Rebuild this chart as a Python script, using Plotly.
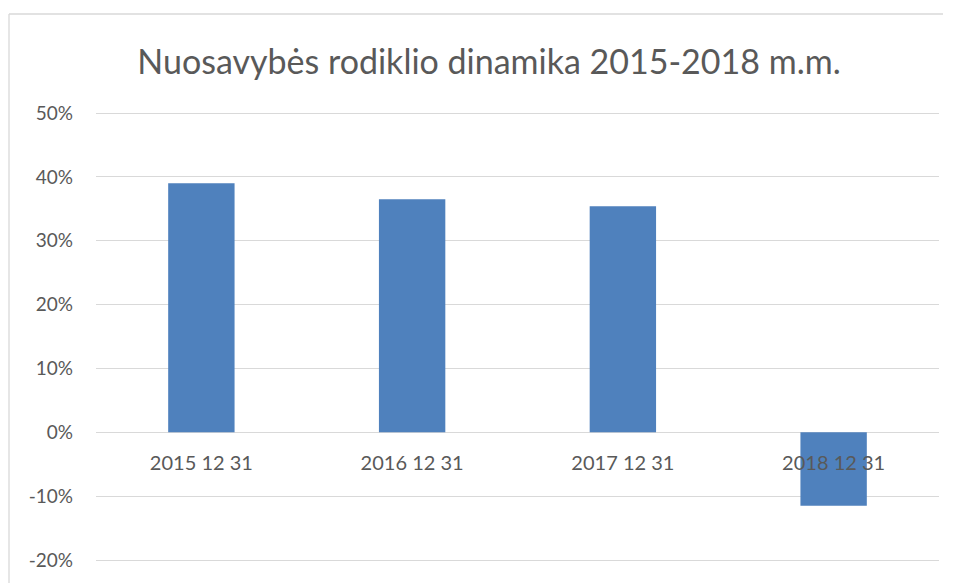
import plotly.graph_objects as go

categories = ["2015 12 31", "2016 12 31", "2017 12 31", "2018 12 31"]
values = [39.0, 36.5, 35.4, -11.5]
tick_vals = [-20, -10, 0, 10, 20, 30, 40, 50]
tick_text = ["-20%", "-10%", "0%", "10%", "20%", "30%", "40%", "50%"]
title_text = "Nuosavybės rodiklio dinamika 2015-2018 m.m."

# page has an 8px body margin; compensate so page coords match
OFF = 8
EXT = 2  # px of headroom so edge gridlines are kept
W, H = 955 - OFF, 583 - OFF
L, R, T, B = 96 - OFF, 955 - 939, 113 - OFF - EXT, 583 - 560 - EXT
pw, ph = W - L - R, H - T - B
pad_units = EXT * 70 / (ph - 2 * EXT)

fig = go.Figure(go.Bar(
    x=categories, y=values,
    marker=dict(color="#4F81BD", line=dict(width=0)),
    width=0.315,
))

bx0 = (1 - L) / pw
bx1 = (W - 12 - L) / pw
by0 = -(B + 40) / ph
by1 = 1 + (T - (14 - OFF)) / ph
border = dict(color="#D9D9D9", width=1.3)

fig.update_layout(
    width=W, height=H,
    margin=dict(l=L, r=R, t=T, b=B, pad=0),
    paper_bgcolor="white", plot_bgcolor="white",
    showlegend=False,
    font=dict(family="Lato, 'Open Sans', sans-serif", color="#595959"),
    title=dict(text=title_text, x=(489 - OFF) / W, xref="container", xanchor="center",
               y=1 - (62 - OFF) / H, yanchor="middle",
               font=dict(size=34, color="#595959")),
    xaxis=dict(
        anchor="free", position=(20 + pad_units) / (70 + 2 * pad_units),
        showline=False, showgrid=False, ticks="",
        tickfont=dict(size=20, color="#595959"),
        ticklabelstandoff=17,
    ),
    yaxis=dict(
        range=[-20 - pad_units, 50 + pad_units], tickvals=tick_vals, ticktext=tick_text,
        showgrid=True, gridcolor="#D9D9D9", gridwidth=1.3,
        zeroline=True, zerolinecolor="#D9D9D9", zerolinewidth=1.3,
        showline=False, ticks="",
        tickfont=dict(size=19, color="#595959"),
        ticklabelstandoff=22,
    ),
    shapes=[
        dict(type="line", xref="paper", yref="paper", x0=bx0, x1=bx1, y0=by1, y1=by1,
             line=border, layer="below"),
        dict(type="line", xref="paper", yref="paper", x0=bx0, x1=bx0, y0=by0, y1=by1,
             line=border, layer="below"),
    ],
)

fig.write_html("out.html")
